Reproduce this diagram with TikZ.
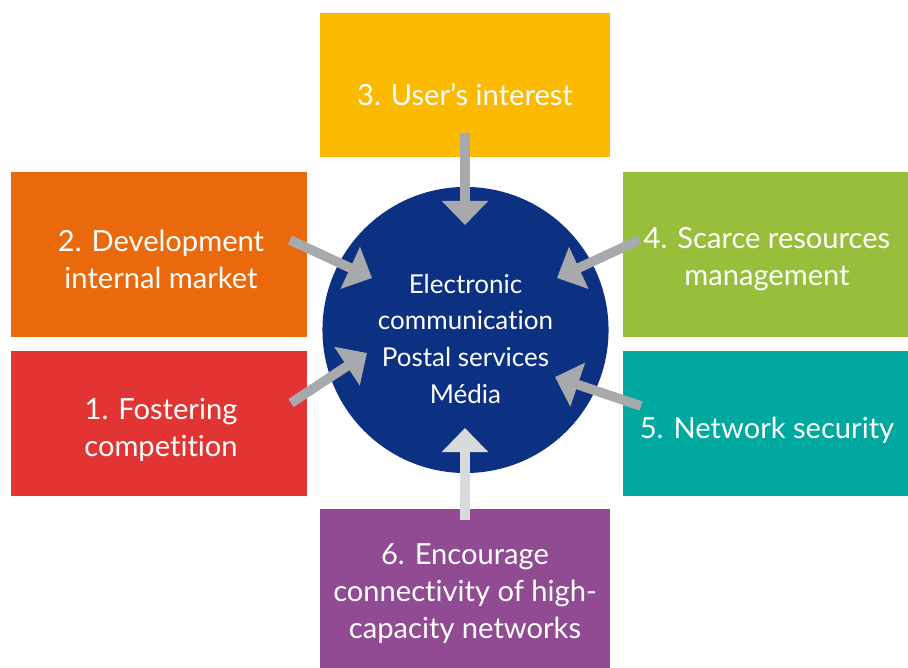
\documentclass[tikz,border=0pt]{standalone}
\usepackage{fontspec}
\setmainfont[Ligatures=NoCommon]{Lato}
\usetikzlibrary{arrows.meta,positioning}

\definecolor{sunyellow}{HTML}{FBBA00}
\definecolor{deeporange}{HTML}{E9690C}
\definecolor{brightred}{HTML}{E33434}
\definecolor{leafgreen}{HTML}{97BF3C}
\definecolor{seateal}{HTML}{00A99F}
\definecolor{plum}{HTML}{904B92}
\definecolor{hubblue}{HTML}{0D3182}
\definecolor{arrowgray}{HTML}{A7A9AC}
\definecolor{palegray}{HTML}{D9DADC}

\begin{document}
\begin{tikzpicture}[x=0.025cm,y=-0.025cm,>={Triangle[width=1.125cm,length=0.6cm]}]
                \tikzstyle{box}=[rectangle, inner sep=0pt]
                \tikzstyle{wide}=[box, minimum width=7.4cm]
                \tikzstyle{narrow}=[box, minimum width=7.125cm]
                \tikzstyle{caption}=[text=white, align=center, inner sep=0pt, font=\fontsize{20.7}{26.3}\selectfont]
                \tikzstyle{push}=[->, draw=arrowgray, line width=0.24cm]
                \useasboundingbox (0,0) rectangle (908,668);

                \node[box, fill=sunyellow, minimum width=7.25cm, minimum height=3.6cm] (interest) at (465,85) {};
                \node[wide, fill=deeporange, minimum height=4.125cm] (market) at (159,254.5) {};
                \node[wide, fill=brightred, minimum height=3.625cm] (competition) [below=0.325cm of market] {};
                \node[narrow, fill=leafgreen, minimum height=4.125cm] (resources) at (765.5,254.5) {};
                \node[narrow, fill=seateal, minimum height=3.625cm] (security) [below=0.325cm of resources] {};
                \node[box, fill=plum, minimum width=7.25cm, minimum height=3.975cm] (connectivity) at (465,588.5) {};
                \node[circle, fill=hubblue, minimum size=7.15cm, inner sep=0pt] (hub) at (465.5,330) {};

                \node[caption] at (465,95) (interest-cl) {3. User’s interest};
                \node[caption] at (161,259) (market-cl) {2. Development\\internal market};
                \node[caption] at (161,430) (competition-cl) {1. Fostering\\competition};
                \node[caption] at (767,259) (resources-cl) {4. Scarce resources\\management};
                \node[caption] at (767,430) (security-cl) {5. Network security};
                \node[caption] at (465,594) (connectivity-cl) {6. Encourage\\connectivity of high-\\capacity networks};
                \node[caption, font=\fontsize{18.5}{26.3}\selectfont] at (465.5,339) (hub-cl) {Electronic\\communication\\Postal services\\Média};

                % arrow ends
                \coordinate (from3) at (465,133);   \coordinate (to3) at (465,225);
                \coordinate (from2) at (290,240);   \coordinate (to2) at (372,278);
                \coordinate (from1) at (291,403);   \coordinate (to1) at (367,353);
                \coordinate (from4) at (639,240);   \coordinate (to4) at (557,278);
                \coordinate (from5) at (641,406);   \coordinate (to5) at (555,377);
                \coordinate (from6) at (465,520);   \coordinate (to6) at (465,428);

                \draw[push] (from3) -- (to3);
                \draw[push] (from2) -- (to2);
                \draw[push] (from1) -- (to1);
                \draw[push] (from4) -- (to4);
                \draw[push] (from5) -- (to5);
                \draw[push, draw=palegray] (from6) -- (to6);
\end{tikzpicture}
\end{document}
